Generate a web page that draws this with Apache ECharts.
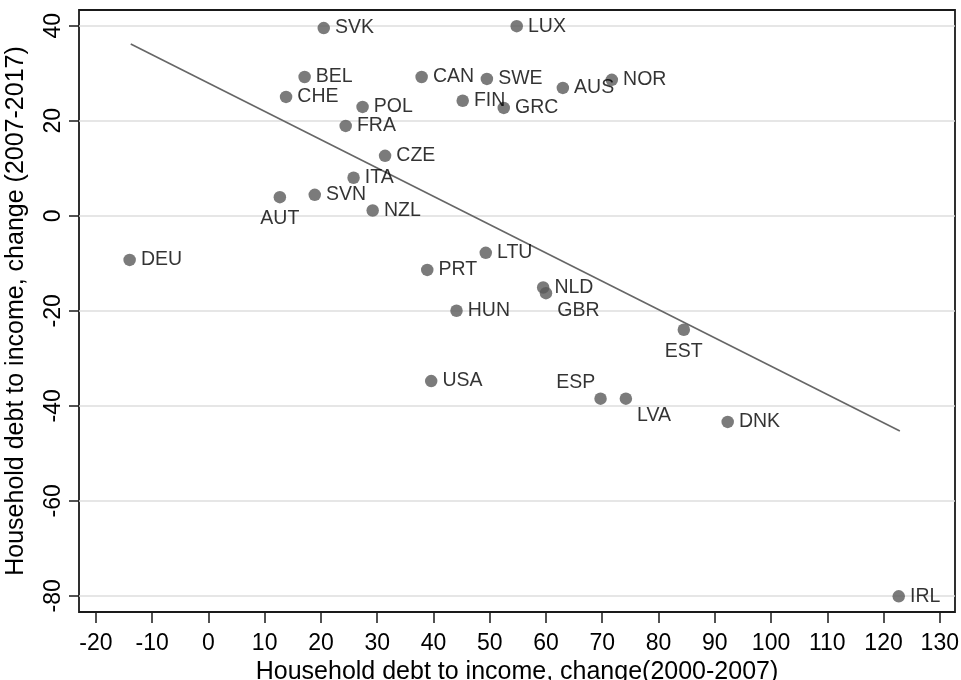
<!DOCTYPE html>
<html>
<head>
<meta charset="utf-8">
<script src="https://cdn.jsdelivr.net/npm/echarts@6/dist/echarts.min.js"></script>
<style>
html,body{margin:0;padding:0;background:#fff;}
#c{width:961px;height:680px;}
</style>
</head>
<body>
<div id="c"></div>
<script>
// ---- data ----
var countries = ['SVK','LUX','BEL','CAN','SWE','NOR','AUS','CHE','POL','FIN','GRC','FRA','CZE','ITA','AUT','SVN','NZL','DEU','LTU','PRT','NLD','GBR','HUN','EST','USA','ESP','LVA','DNK','IRL'];
var debtChange0007 = [20.5,54.8,17.1,37.9,49.5,71.7,63.0,13.8,27.4,45.2,52.5,24.4,31.4,25.8,12.7,18.9,29.2,-14.0,49.3,38.9,59.5,60.0,44.1,84.5,39.6,69.7,74.2,92.3,122.7];
var debtChange0717 = [39.5,39.9,29.2,29.2,28.8,28.6,26.9,25.0,22.9,24.2,22.7,18.9,12.6,8.0,3.9,4.4,1.1,-9.3,-7.8,-11.4,-15.1,-16.3,-20.0,-24.0,-34.8,-38.5,-38.5,-43.4,-80.1];
var fitLineX = [-13.8, 122.9];
var fitLineY = [36.15, -45.3];
var xTicks = [-20,-10,0,10,20,30,40,50,60,70,80,90,100,110,120,130];
var yTicks = [-80,-60,-40,-20,0,20,40];

// ---- label placement (style) ----
var labelPlacement = {
  AUT: {position: 'bottom', distance: 5},
  EST: {position: 'bottom', distance: 6},
  GBR: {position: 'right', offset: [0, 17]},
  LVA: {position: 'right', offset: [0, 17]},
  ESP: {position: 'left', offset: [6, -16]}
};

var points = countries.map(function (c, i) {
  var item = {name: c, value: [debtChange0007[i], debtChange0717[i]]};
  if (labelPlacement[c]) item.label = labelPlacement[c];
  return item;
});

var font = 'Liberation Sans, Arial, sans-serif';
var chart = echarts.init(document.getElementById('c'));
chart.setOption({
  animation: false,
  backgroundColor: '#fff',
  grid: {left: 79, right: 6, top: 10, bottom: 68, containLabel: false, outerBoundsMode: 'none',
         show: true, borderColor: '#1a1a1a', borderWidth: 1.8, backgroundColor: 'transparent'},
  xAxis: {
    type: 'value', min: -23, max: 132.7,
    axisLine: {show: false, onZero: false},
    axisTick: {show: true, inside: false, length: 11, lineStyle: {color: '#1a1a1a', width: 1.5}, customValues: xTicks},
    axisLabel: {customValues: xTicks, margin: 20, fontFamily: font, fontSize: 23, color: '#000'},
    splitLine: {show: false},
    name: 'Household debt to income, change(2000-2007)',
    nameLocation: 'middle', nameGap: 39,
    nameTextStyle: {fontFamily: font, fontSize: 25, color: '#000'}
  },
  yAxis: {
    type: 'value', min: -83.4, max: 43.3,
    axisLine: {show: false, onZero: false},
    axisTick: {show: true, inside: false, length: 10, lineStyle: {color: '#1a1a1a', width: 1.5}, customValues: yTicks},
    axisLabel: {customValues: yTicks, rotate: 90, margin: 14, fontFamily: font, fontSize: 23, color: '#000'},
    splitLine: {show: true, lineStyle: {color: '#dedede', width: 1.5}},
    name: 'Household debt to income, change (2007-2017)',
    nameLocation: 'middle', nameGap: 50, nameRotate: 90,
    nameTextStyle: {fontFamily: font, fontSize: 25, color: '#000'}
  },
  series: [
    {
      type: 'line',
      data: fitLineX.map(function (x, i) { return [x, fitLineY[i]]; }),
      symbol: 'none',
      lineStyle: {color: '#666', width: 1.6},
      silent: true, z: 1
    },
    {
      type: 'scatter',
      data: points,
      symbolSize: 12.5,
      itemStyle: {color: '#5a5a5a'},
      label: {show: true, position: 'right', distance: 5, formatter: '{b}', fontFamily: font, fontSize: 19.5, color: '#000'},
      z: 2
    }
  ]
});
</script>
</body>
</html>
